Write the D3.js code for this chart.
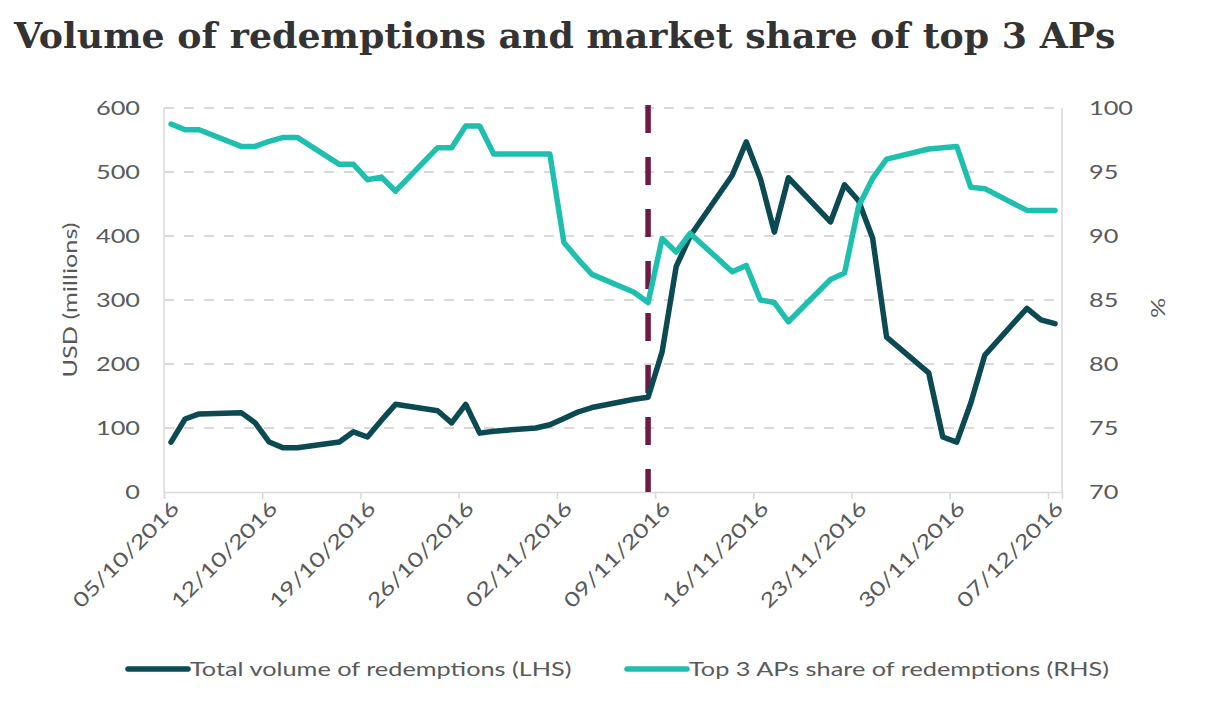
<!DOCTYPE html>
<html>
<head>
<meta charset="utf-8">
<script src="https://cdn.jsdelivr.net/npm/d3@7"></script>
<style>
  html, body { margin: 0; padding: 0; background: #ffffff; }
  svg { display: block; }
</style>
</head>
<body>
<svg id="chart" width="1205" height="706"></svg>
<script>
// ---- Data ----
const dates = ["05/10/2016","06/10/2016","07/10/2016","10/10/2016","11/10/2016","12/10/2016","13/10/2016","14/10/2016",
  "17/10/2016","18/10/2016","19/10/2016","20/10/2016","21/10/2016","24/10/2016","25/10/2016","26/10/2016","27/10/2016","28/10/2016",
  "31/10/2016","01/11/2016","02/11/2016","03/11/2016","04/11/2016","07/11/2016","08/11/2016","09/11/2016","10/11/2016","11/11/2016",
  "14/11/2016","15/11/2016","16/11/2016","17/11/2016","18/11/2016","21/11/2016","22/11/2016","23/11/2016","24/11/2016","25/11/2016",
  "28/11/2016","29/11/2016","30/11/2016","01/12/2016","02/12/2016","05/12/2016","06/12/2016","07/12/2016"];
const volume = [78,114,122,124,108,78,69,69,
  78,94,86,112,137,127,108,137,92,95,
  100,105,115,125,132,145,148,219,352,400,
  495,547,490,406,491,422,480,455,397,242,
  186,86,78,139,214,287,269,263];
const share = [98.75,98.3,98.3,97.0,97.0,97.4,97.7,97.7,
  95.6,95.6,94.4,94.6,93.5,96.9,96.9,98.6,98.6,96.4,
  96.4,96.4,89.5,88.2,87.0,85.6,84.8,89.8,88.75,90.2,
  87.2,87.7,85.0,84.8,83.3,86.6,87.1,92.3,94.5,96.0,
  96.8,96.9,97.0,93.8,93.7,92.0,92.0,92.0];
const xTickLabels = ["05/10/2016","12/10/2016","19/10/2016","26/10/2016","02/11/2016","09/11/2016","16/11/2016","23/11/2016","30/11/2016","07/12/2016"];
const leftTicks = [0,100,200,300,400,500,600];
const rightTicks = [70,75,80,85,90,95,100];
const eventDate = "08/11/2016";
const seriesNames = ["Total volume of redemptions (LHS)", "Top 3 APs share of redemptions (RHS)"];
const title = "Volume of redemptions and market share of top 3 APs";

// ---- Setup ----
const parse = d3.utcParse("%d/%m/%Y");
const DAY = 864e5;
const mid = s => new Date(parse(s).getTime() + DAY / 2);

const svg = d3.select("#chart");
const pL = 164, pR = 1062, pT = 108, pB = 492;

const x = d3.scaleUtc()
  .domain([parse("05/10/2016"), new Date(parse("07/12/2016").getTime() + DAY)])
  .range([pL, pR]);
const yL = d3.scaleLinear().domain([0, 600]).range([pB, pT]);
const yR = d3.scaleLinear().domain([70, 100]).range([pB, pT]);

const textCol = "#595959";
const darkCol = "#0b4a53";
const tealCol = "#1fbfb0";
const font = "Lato, 'Open Sans', sans-serif";
const fs = 20;
const widen = 1.265;

// widen glyphs along the text direction (reference uses a wide rendering)
function widenText(sel) {
  sel.each(function () {
    const w = this.getComputedTextLength();
    d3.select(this).attr("textLength", w * widen).attr("lengthAdjust", "spacingAndGlyphs");
  });
}

// Title (font size fitted to the reference width)
const t = svg.append("text")
  .attr("x", 14).attr("y", 48)
  .attr("font-family", "'DejaVu Serif', serif")
  .attr("font-weight", "bold")
  .attr("font-size", 44)
  .attr("fill", "#333333")
  .text(title);
const w0 = t.node().getComputedTextLength();
t.attr("font-size", 44 * 1102 / w0);

// Gridlines
svg.append("g").selectAll("line")
  .data(leftTicks.filter(d => d > 0))
  .join("line")
  .attr("x1", pL).attr("x2", pR)
  .attr("y1", d => yL(d)).attr("y2", d => yL(d))
  .attr("stroke", "#d9d9d9").attr("stroke-width", 2)
  .attr("stroke-dasharray", "10,10");

// Frame verticals
svg.append("line").attr("x1", pL).attr("x2", pL).attr("y1", pT).attr("y2", pB)
  .attr("stroke", "#d9d9d9").attr("stroke-width", 1.5);
svg.append("line").attr("x1", pR).attr("x2", pR).attr("y1", pT).attr("y2", pB)
  .attr("stroke", "#d9d9d9").attr("stroke-width", 1.5);

// Bottom axis
const xAxis = d3.axisBottom(x)
  .tickValues(xTickLabels.map(parse))
  .tickSize(7)
  .tickFormat(d => d3.utcFormat("%d/%m/%Y")(d));
const gx = svg.append("g").attr("transform", `translate(0,${pB})`).call(xAxis);
gx.select(".domain").attr("stroke", "#d9d9d9").attr("stroke-width", 1.5);
gx.selectAll(".tick line").attr("stroke", "#d9d9d9").attr("stroke-width", 1.5);
gx.selectAll(".tick text")
  .attr("font-family", font).attr("font-size", fs).attr("fill", textCol)
  .attr("text-anchor", "end")
  .attr("transform", "translate(11,13) rotate(-45)")
  .attr("dy", "0.35em").attr("y", 0).attr("x", 0)
  .call(widenText);

// Left axis
const gl = svg.append("g").attr("transform", `translate(${pL},0)`)
  .call(d3.axisLeft(yL).tickValues(leftTicks).tickSize(0).tickPadding(24));
gl.select(".domain").remove();
gl.selectAll(".tick text").attr("font-family", font).attr("font-size", fs).attr("fill", textCol).call(widenText);

// Right axis
const gr = svg.append("g").attr("transform", `translate(${pR},0)`)
  .call(d3.axisRight(yR).tickValues(rightTicks).tickSize(0).tickPadding(27));
gr.select(".domain").remove();
gr.selectAll(".tick text").attr("font-family", font).attr("font-size", fs).attr("fill", textCol).call(widenText);

// Axis titles
svg.append("text")
  .attr("transform", `translate(77,${(pT + pB) / 2}) rotate(-90)`)
  .attr("text-anchor", "middle")
  .attr("font-family", font).attr("font-size", fs).attr("fill", textCol)
  .text("USD (millions)").call(widenText);
svg.append("text")
  .attr("transform", `translate(1165,${(pT + pB) / 2 + 8}) rotate(-90)`)
  .attr("text-anchor", "middle")
  .attr("font-family", font).attr("font-size", fs).attr("fill", textCol)
  .text("%").call(widenText);

// Event line
const ex = x(mid(eventDate));
svg.append("line")
  .attr("x1", ex).attr("x2", ex).attr("y1", pT - 3).attr("y2", pB)
  .attr("stroke", "#6d1a45").attr("stroke-width", 5.5)
  .attr("stroke-dasharray", "28,24");

// Lines
const rows = dates.map((d, i) => ({ date: mid(d), v: volume[i], s: share[i] }));
svg.append("path").datum(rows)
  .attr("fill", "none").attr("stroke", darkCol).attr("stroke-width", 5.5)
  .attr("stroke-linejoin", "round").attr("stroke-linecap", "round")
  .attr("d", d3.line().x(d => x(d.date)).y(d => yL(d.v)));
svg.append("path").datum(rows)
  .attr("fill", "none").attr("stroke", tealCol).attr("stroke-width", 5.5)
  .attr("stroke-linejoin", "round").attr("stroke-linecap", "round")
  .attr("d", d3.line().x(d => x(d.date)).y(d => yR(d.s)));

// Legend
const legendItems = [
  { name: seriesNames[0], color: darkCol, x0: 128 },
  { name: seriesNames[1], color: tealCol, x0: 627 }
];
const lg = svg.append("g");
legendItems.forEach(it => {
  lg.append("line").attr("x1", it.x0).attr("x2", it.x0 + 60).attr("y1", 669).attr("y2", 669)
    .attr("stroke", it.color).attr("stroke-width", 5.5).attr("stroke-linecap", "round");
  lg.append("text").attr("x", it.x0 + 62).attr("y", 669).attr("dy", "0.35em")
    .attr("font-family", font).attr("font-size", fs).attr("fill", textCol)
    .text(it.name).call(widenText);
});
</script>
</body>
</html>
